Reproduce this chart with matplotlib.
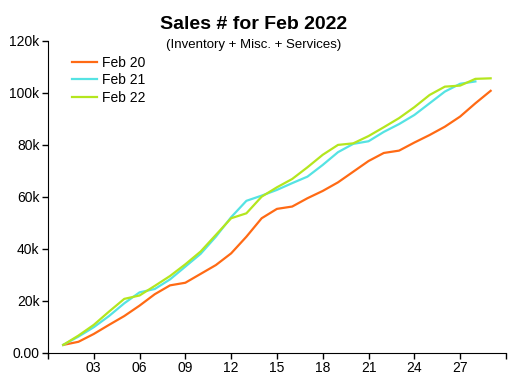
import matplotlib
matplotlib.use('Agg')
import matplotlib.pyplot as plt

plt.rcParams['font.family'] = ['Liberation Sans', 'DejaVu Sans']

days = list(range(1, 30))
feb20 = [3.1, 4.3, 7.3, 10.8, 14.2, 18.2, 22.6, 26.0, 27.0, 30.4,
         33.8, 38.3, 44.7, 51.8, 55.4, 56.3, 59.5, 62.3, 65.6, 69.7,
         73.8, 76.9, 77.8, 80.9, 83.8, 87.0, 90.9, 96.0, 100.8]
feb21 = [3.1, 6.3, 9.9, 14.2, 19.1, 23.3, 24.6, 28.3, 33.2, 38.1,
         44.7, 52.2, 58.5, 60.5, 62.7, 65.3, 67.8, 72.3, 77.2, 80.4,
         81.4, 85.0, 88.0, 91.5, 96.0, 100.5, 103.5, 104.4]
feb22 = [3.1, 6.7, 10.8, 15.9, 20.8, 22.1, 25.8, 29.6, 34.1, 39.0,
         45.4, 51.8, 53.7, 60.1, 63.7, 66.9, 71.4, 76.2, 80.0, 80.6,
         83.4, 86.8, 90.3, 94.5, 99.2, 102.4, 102.8, 105.4, 105.6]

x_ticks = list(range(0, 31, 3))
x_labels = ['', '03', '06', '09', '12', '15', '18', '21', '24', '27', '']
y_ticks = [0, 20000, 40000, 60000, 80000, 100000, 120000]
y_labels = ['0.00', '20k', '40k', '60k', '80k', '100k', '120k']

fig = plt.figure(figsize=(5.1, 3.82), dpi=100)
ax = fig.add_axes([0.094, 0.076, 0.898, 0.817])

ax.plot(days, [v * 1000 for v in feb20], color='#ff6a14', lw=1.6, label='Feb 20')
ax.plot(days[:len(feb21)], [v * 1000 for v in feb21], color='#55e3e3', lw=1.6, label='Feb 21')
ax.plot(days, [v * 1000 for v in feb22], color='#b4e61e', lw=1.6, label='Feb 22')

ax.set_xlim(0, 30)
ax.set_ylim(0, 120000)
ax.set_xticks(x_ticks)
ax.set_xticklabels(x_labels)
ax.set_yticks(y_ticks)
ax.set_yticklabels(y_labels)
ax.tick_params(labelsize=10, length=4, width=1, direction='out', pad=2)
ax.spines['top'].set_visible(False)
ax.spines['right'].set_visible(False)

fig.text(0.498, 0.937, 'Sales # for Feb 2022', ha='center', va='center',
         fontsize=14, fontweight='bold')
fig.text(0.498, 0.883, '(Inventory + Misc. + Services)', ha='center', va='center',
         fontsize=9.5)

ax.legend(loc='upper left', bbox_to_anchor=(0.040, 0.970), frameon=False,
          fontsize=10, handlelength=1.8, handletextpad=0.4, labelspacing=0.25,
          borderaxespad=0)

fig.savefig('out.png', dpi=100)
